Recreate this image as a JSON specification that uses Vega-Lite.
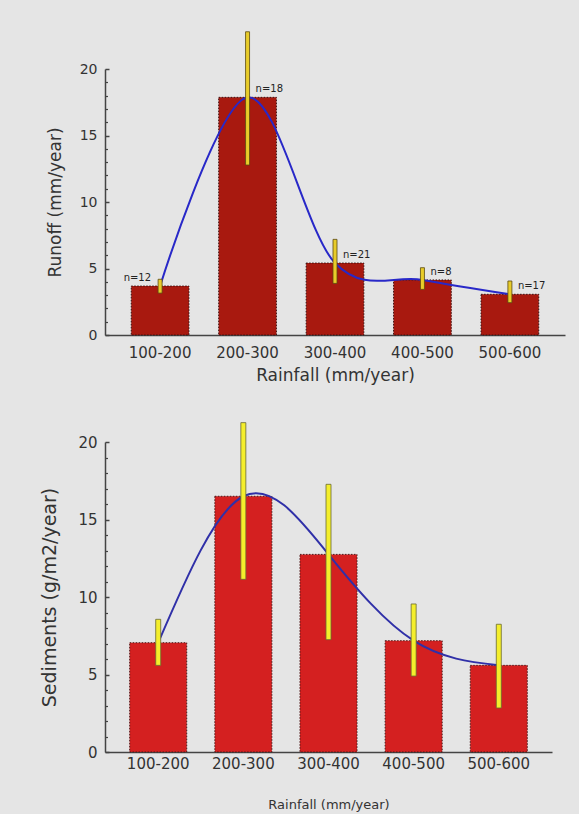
{
  "$schema": "https://vega.github.io/schema/vega-lite/v6.json",
  "background": "#e5e5e5",
  "padding": {"left": 40, "top": 31, "right": 14, "bottom": 3},
  "bounds": "flush",
  "spacing": 107,
  "config": {
    "font": "DejaVu Sans",
    "view": {"stroke": null},
    "axis": {"grid": false, "domainColor": "#444", "tickColor": "#444", "labelColor": "#333", "titleColor": "#333", "titleFontWeight": "normal", "domainWidth": 1.5}
  },
  "datasets": {
    "runoff": [
      {"rainfall": "100-200", "mean": 3.68, "lo": 3.15, "hi": 4.19, "n": "n=12"},
      {"rainfall": "200-300", "mean": 17.87, "lo": 12.78, "hi": 22.8, "n": "n=18"},
      {"rainfall": "300-400", "mean": 5.41, "lo": 3.88, "hi": 7.19, "n": "n=21"},
      {"rainfall": "400-500", "mean": 4.14, "lo": 3.43, "hi": 5.06, "n": "n=8"},
      {"rainfall": "500-600", "mean": 3.06, "lo": 2.43, "hi": 4.06, "n": "n=17"}
    ],
    "sediments": [
      {"rainfall": "100-200", "mean": 7.05, "lo": 5.59, "hi": 8.56},
      {"rainfall": "200-300", "mean": 16.5, "lo": 11.14, "hi": 21.25},
      {"rainfall": "300-400", "mean": 12.75, "lo": 7.25, "hi": 17.27},
      {"rainfall": "400-500", "mean": 7.18, "lo": 4.9, "hi": 9.55},
      {"rainfall": "500-600", "mean": 5.59, "lo": 2.84, "hi": 8.24}
    ]
  },
  "vconcat": [
    {
      "width": 460,
      "height": 266,
      "data": {"name": "runoff"},
      "encoding": {
        "x": {
          "field": "rainfall", "type": "nominal", "sort": null,
          "scale": {"paddingInner": 0.34, "paddingOuter": 0.3},
          "axis": {"title": "Rainfall  (mm/year)", "labelAngle": 0, "ticks": false, "labelPadding": 10, "labelFontSize": 15, "titleFontSize": 17, "titlePadding": 7}
        }
      },
      "layer": [
        {
          "mark": {"type": "bar", "fill": "#a8190f", "stroke": "#3a1010", "strokeWidth": 1, "strokeDash": [1.5, 1.5]},
          "encoding": {
            "y": {
              "field": "mean", "type": "quantitative",
              "scale": {"domain": [0, 20], "nice": false},
              "axis": {"title": "Runoff  (mm/year)", "values": [0, 5, 10, 15, 20], "tickSize": -4, "tickWidth": 1.5, "labelPadding": 12, "labelFontSize": 14, "titleFontSize": 17, "titlePadding": 15}
            }
          }
        },
        {
          "mark": {"type": "line", "interpolate": "cardinal", "tension": 0, "color": "#2828c8", "strokeWidth": 2},
          "encoding": {
            "y": {
              "field": "mean", "type": "quantitative",
              "axis": {"title": null, "orient": "left", "values": [1,2,3,4,6,7,8,9,11,12,13,14,16,17,18,19], "labels": false, "domain": false, "tickSize": -2.5, "tickWidth": 1.2}
            }
          }
        },
        {
          "mark": {"type": "bar", "size": 4, "fill": "#e8cc2a", "stroke": "#5a4a10", "strokeWidth": 0.8},
          "encoding": {
            "y": {"field": "lo", "type": "quantitative", "axis": null},
            "y2": {"field": "hi"}
          }
        },
        {
          "transform": [{"filter": "datum.rainfall !== '100-200'"}],
          "mark": {"type": "text", "align": "left", "baseline": "middle", "dx": 8, "dy": -8, "fontSize": 10, "color": "#222"},
          "encoding": {
            "y": {"field": "mean", "type": "quantitative", "axis": null},
            "text": {"field": "n"}
          }
        },
        {
          "transform": [{"filter": "datum.rainfall === '100-200'"}],
          "mark": {"type": "text", "align": "right", "baseline": "middle", "dx": -9, "dy": -8, "fontSize": 10, "color": "#222"},
          "encoding": {
            "y": {"field": "mean", "type": "quantitative", "axis": null},
            "text": {"field": "n"}
          }
        }
      ],
      "resolve": {"axis": {"y": "independent"}}
    },
    {
      "width": 447,
      "height": 310,
      "data": {"name": "sediments"},
      "encoding": {
        "x": {
          "field": "rainfall", "type": "nominal", "sort": null,
          "scale": {"paddingInner": 0.33, "paddingOuter": 0.29},
          "axis": {"title": "Rainfall  (mm/year)", "labelAngle": 0, "ticks": false, "labelPadding": 4, "labelFontSize": 15, "titleFontSize": 13, "titlePadding": 27}
        }
      },
      "layer": [
        {
          "mark": {"type": "bar", "fill": "#d42020", "stroke": "#4a1a1a", "strokeWidth": 1, "strokeDash": [1.5, 1.5]},
          "encoding": {
            "y": {
              "field": "mean", "type": "quantitative",
              "scale": {"domain": [0, 20], "nice": false},
              "axis": {"title": "Sediments  (g/m2/year)", "values": [0, 5, 10, 15, 20], "tickSize": -4, "tickWidth": 1.5, "labelPadding": 12, "labelFontSize": 15, "titleFontSize": 19, "titlePadding": 18}
            }
          }
        },
        {
          "mark": {"type": "line", "interpolate": "natural", "color": "#3030a8", "strokeWidth": 2},
          "encoding": {
            "y": {
              "field": "mean", "type": "quantitative",
              "axis": {"title": null, "orient": "left", "values": [1,2,3,4,6,7,8,9,11,12,13,14,16,17,18,19], "labels": false, "domain": false, "tickSize": -2.5, "tickWidth": 1.2}
            }
          }
        },
        {
          "mark": {"type": "bar", "size": 5, "fill": "#f4ee2c", "stroke": "#6a6a30", "strokeWidth": 0.8},
          "encoding": {
            "y": {"field": "lo", "type": "quantitative", "axis": null},
            "y2": {"field": "hi"}
          }
        }
      ],
      "resolve": {"axis": {"y": "independent"}}
    }
  ]
}
